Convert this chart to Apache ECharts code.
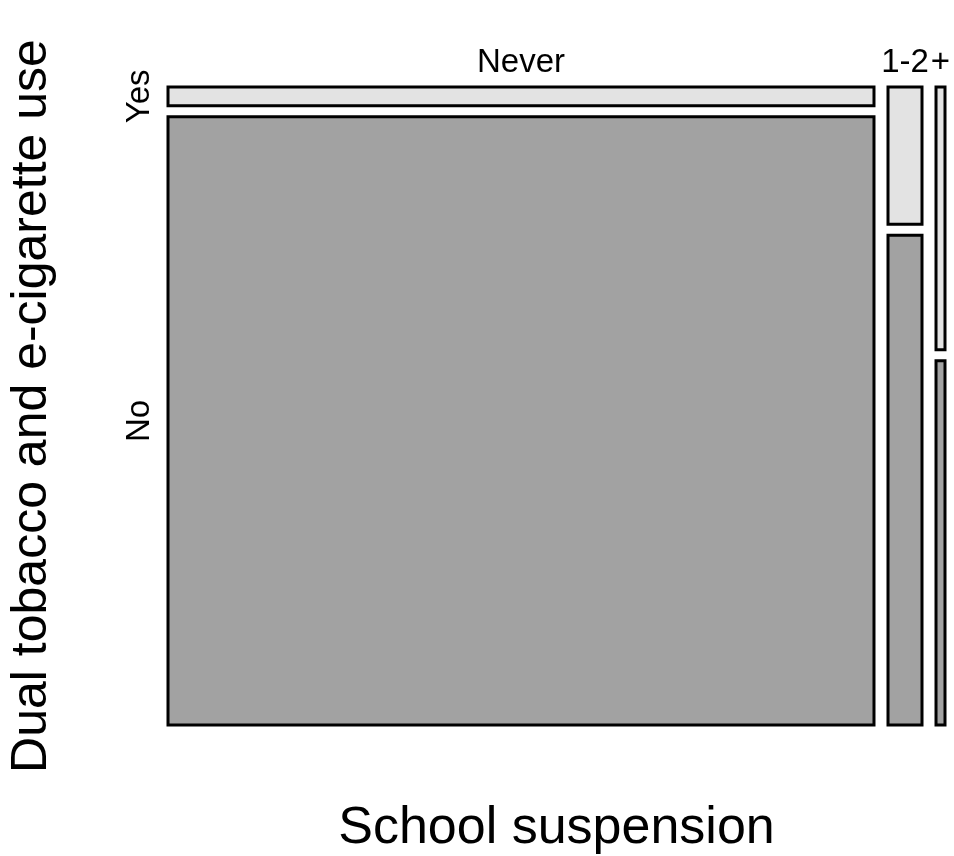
<!DOCTYPE html>
<html>
<head>
<meta charset="utf-8">
<script src="https://cdn.jsdelivr.net/npm/echarts@6/dist/echarts.min.js"></script>
<style>
  html, body { margin: 0; padding: 0; background: #fff; }
  #chart { width: 954px; height: 856px; }
</style>
</head>
<body>
<div id="chart"></div>
<script>
// ---- data ----
const categories = ['Never', '1-2', '+'];          // School suspension
const rowLevels = ['Yes', 'No'];                   // Dual tobacco and e-cigarette use
const columnShare = [0.9426, 0.0454, 0.0120];      // share of respondents per column
const yesShare = [0.030, 0.219, 0.419];            // conditional share "Yes" within column

// ---- layout constants ----
const GAP_X = 0.0187;
const GAP_Y = 0.0175;
const FONT = "'Liberation Sans', Arial, Helvetica, sans-serif";
const COLORS = { Yes: '#E3E3E3', No: '#A2A2A2' };

function colStart(c) {
  let s = 0;
  for (let i = 0; i < c; i++) s += columnShare[i] + GAP_X;
  return s;
}

const cellData = [];
categories.forEach((cat, c) => {
  rowLevels.forEach((lvl, r) => { cellData.push([c, r]); });
});

const chart = echarts.init(document.getElementById('chart'), null, { renderer: 'canvas' });

chart.setOption({
  backgroundColor: '#ffffff',
  animation: false,
  grid: { left: 168, right: 9, top: 87, bottom: 131, containLabel: false, outerBoundsMode: 'none' },
  xAxis: {
    type: 'value', min: 0, max: 1 + 2 * GAP_X,
    axisLine: { show: false }, axisTick: { show: false },
    axisLabel: { show: false }, splitLine: { show: false },
    name: 'School suspension', nameLocation: 'middle', nameGap: 78,
    nameTextStyle: { fontFamily: FONT, fontSize: 52, color: '#000' }
  },
  yAxis: {
    type: 'value', min: 0, max: 1 + GAP_Y,
    axisLine: { show: false }, axisTick: { show: false },
    axisLabel: { show: false }, splitLine: { show: false },
    name: 'Dual tobacco and e-cigarette use', nameLocation: 'middle', nameGap: 111,
    nameRotate: 90,
    nameTextStyle: { fontFamily: FONT, fontSize: 50, color: '#000' }
  },
  series: [
    {
      type: 'custom',
      data: cellData,
      renderItem: function (params, api) {
        const c = api.value(0), r = api.value(1);
        const x0 = colStart(c), x1 = x0 + columnShare[c];
        let y0, y1;
        if (rowLevels[r] === 'No') { y0 = 0; y1 = 1 - yesShare[c]; }
        else { y0 = 1 - yesShare[c] + GAP_Y; y1 = 1 + GAP_Y; }
        const p0 = api.coord([x0, y1]);
        const p1 = api.coord([x1, y0]);
        return {
          type: 'rect',
          shape: { x: p0[0], y: p0[1], width: p1[0] - p0[0], height: p1[1] - p0[1] },
          style: { fill: COLORS[rowLevels[r]], stroke: '#000', lineWidth: 3 }
        };
      }
    },
    {
      type: 'custom',
      data: categories.map((c, i) => [i]),
      renderItem: function (params, api) {
        const c = api.value(0);
        const x0 = colStart(c), x1 = x0 + columnShare[c];
        const p = api.coord([(x0 + x1) / 2, 1 + GAP_Y]);
        return {
          type: 'text',
          x: p[0], y: p[1] - 8,
          style: { text: categories[c], fontFamily: FONT, fontSize: 33, fill: '#000',
                   align: 'center', verticalAlign: 'bottom' }
        };
      }
    },
    {
      type: 'custom',
      data: rowLevels.map((r, i) => [i]),
      renderItem: function (params, api) {
        const r = api.value(0);
        let y0, y1;
        if (rowLevels[r] === 'No') { y0 = 0; y1 = 1 - yesShare[0]; }
        else { y0 = 1 - yesShare[0] + GAP_Y; y1 = 1 + GAP_Y; }
        const p = api.coord([0, (y0 + y1) / 2]);
        return {
          type: 'text',
          x: p[0] - 28, y: p[1], rotation: Math.PI / 2,
          style: { text: rowLevels[r], fontFamily: FONT, fontSize: 33, fill: '#000',
                   align: 'center', verticalAlign: 'middle' }
        };
      }
    }
  ]
});
</script>
</body>
</html>
